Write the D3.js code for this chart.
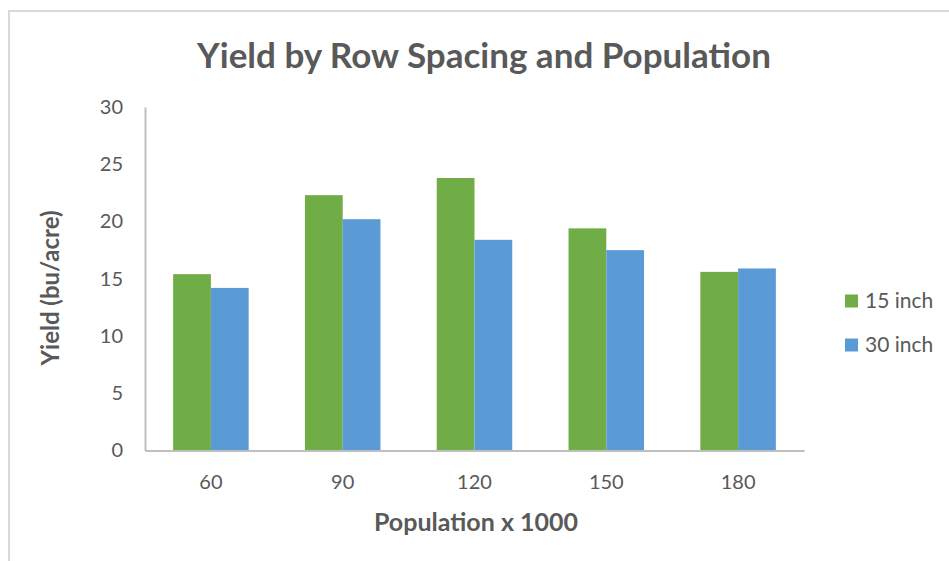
<!DOCTYPE html>
<html>
<head>
<meta charset="utf-8">
<script src="https://cdn.jsdelivr.net/npm/d3@7"></script>
<style>
  html, body { margin: 0; padding: 0; background: #fff; }
  svg { display: block; }
  text { font-family: Lato, "Open Sans", sans-serif; fill: #595959; }
</style>
</head>
<body>
<svg id="chart" width="949" height="561"></svg>
<script>
// Yield (bu/acre) at each plant population for two row spacings
const populations = ["60", "90", "120", "150", "180"];
const seriesNames = ["15 inch", "30 inch"];
const yield15 = [15.4, 22.3, 23.8, 19.4, 15.6];
const yield30 = [14.2, 20.2, 18.4, 17.5, 15.9];
const yTicks = [0, 5, 10, 15, 20, 25, 30];
const seriesColors = ["#70ad47", "#5b9bd5"];

const seriesValues = [yield15, yield30];
const rows = populations.map((p, i) => ({
  pop: p,
  values: seriesNames.map((s, k) => ({ key: s, value: seriesValues[k][i] }))
}));

const svg = d3.select("#chart");
const W = 949, H = 561;
const plot = { left: 145, right: 804, top: 107, bottom: 450.5 };

// chart area frame
svg.append("rect")
  .attr("x", 9).attr("y", 11)
  .attr("width", W + 10).attr("height", H + 10)
  .attr("fill", "#fff")
  .attr("stroke", "#d9d9d9").attr("stroke-width", 2);

const x0 = d3.scaleBand()
  .domain(populations)
  .range([plot.left, plot.right])
  .paddingInner(0.427)
  .paddingOuter(0.2135);

const x1 = d3.scaleBand()
  .domain(seriesNames)
  .range([0, x0.bandwidth()])
  .padding(0);

const y = d3.scaleLinear()
  .domain([0, 30])
  .range([plot.bottom, plot.top]);

const color = d3.scaleOrdinal().domain(seriesNames).range(seriesColors);

// bars
const groups = svg.append("g")
  .selectAll("g")
  .data(rows)
  .join("g")
  .attr("transform", d => `translate(${x0(d.pop)},0)`);

groups.selectAll("rect")
  .data(d => d.values)
  .join("rect")
  .attr("x", d => x1(d.key))
  .attr("y", d => y(d.value))
  .attr("width", x1.bandwidth())
  .attr("height", d => y(0) - y(d.value))
  .attr("fill", d => color(d.key));

// y axis: line plus labels, no tick marks
const yAxis = svg.append("g")
  .attr("transform", `translate(${plot.left},0)`)
  .call(d3.axisLeft(y).tickValues(yTicks).tickSize(0).tickPadding(22));
yAxis.select(".domain").attr("stroke", "#bfbfbf").attr("stroke-width", 2);
yAxis.selectAll("text")
  .style("font-size", "20px")
  .attr("fill", "#595959")
  .style("font-family", "Lato, sans-serif");

// x axis
const xAxis = svg.append("g")
  .attr("transform", `translate(0,${plot.bottom})`)
  .call(d3.axisBottom(x0).tickSize(0).tickPadding(24));
xAxis.select(".domain").attr("stroke", "#bfbfbf").attr("stroke-width", 2);
xAxis.selectAll("text")
  .style("font-size", "20px")
  .attr("fill", "#595959")
  .style("font-family", "Lato, sans-serif");

// titles
svg.append("text")
  .attr("x", 484).attr("y", 68)
  .attr("text-anchor", "middle")
  .style("font-size", "35px").style("font-weight", "bold")
  .text("Yield by Row Spacing and Population");

svg.append("text")
  .attr("x", 476).attr("y", 531)
  .attr("text-anchor", "middle")
  .style("font-size", "25px").style("font-weight", "bold")
  .text("Population x 1000");

svg.append("text")
  .attr("transform", "translate(59,288) rotate(-90)")
  .attr("text-anchor", "middle")
  .style("font-size", "24px").style("font-weight", "bold")
  .text("Yield (bu/acre)");

// legend
const legend = svg.append("g")
  .selectAll("g")
  .data(seriesNames)
  .join("g")
  .attr("transform", (d, i) => `translate(845,${301 + i * 44})`);
legend.append("rect")
  .attr("x", 0).attr("y", -6.5)
  .attr("width", 13).attr("height", 13)
  .attr("fill", d => color(d));
legend.append("text")
  .attr("x", 20).attr("y", 0)
  .attr("dy", "0.35em")
  .style("font-size", "21px")
  .text(d => d);
</script>
</body>
</html>
